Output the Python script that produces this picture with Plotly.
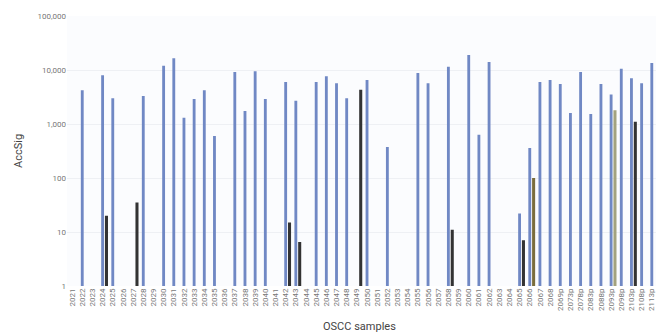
import plotly.graph_objects as go

samples = [str(y) for y in range(2021, 2069)] + [
    "2069p", "2073p", "2078p", "2083p", "2088p", "2093p",
    "2098p", "2103p", "2108p", "2113p", "2117p"]

# main series (blue); None = no bar
blue = [
    None, 4200, None, 8000, 3000, None, None, 3300, None, 12000,   # 2021-2030
    16500, 1300, 2900, 4200, 600, None, 9200, 1750, 9500, 2900,    # 2031-2040
    None, 6000, 2700, None, 6000, 7700, 5700, 3000, None, 6500,    # 2041-2050
    None, 375, None, None, 8800, 5700, None, 11500, None, 19000,   # 2051-2060
    630, 14000, None, None, 22, 360, 6000, 6500,                   # 2061-2068
    5500, 1600, 9200, 1530, 5500, 3500, 10500, 7000, 5700, 13500, 13500]

# second series (dark); None = no bar
dark = [
    None, None, None, 20, None, None, 35, None, None, None,
    None, None, None, None, None, None, None, None, None, None,
    None, 15, 6.5, None, None, None, None, None, 4300, None,
    None, None, None, None, None, None, None, 11, None, None,
    None, None, None, None, 7, 100, None, None,
    None, None, None, None, None, 1800, None, 1100, None, None, None]

dark_colors = ["#333333"] * len(samples)
dark_colors[samples.index("2066")] = "#7a6d3c"
dark_colors[samples.index("2093p")] = "#a3a27e"

y_ticks = [1, 10, 100, 1000, 10000, 100000]
y_tick_text = ["1", "10", "100", "1,000", "10,000", "100,000"]

fig = go.Figure()
fig.add_trace(go.Bar(
    x=samples, y=blue, marker=dict(color="#7088c4", line=dict(width=0)),
    width=0.28, offset=-0.14, name="AccSig"))
fig.add_trace(go.Bar(
    x=samples, y=dark, marker=dict(color=dark_colors, line=dict(width=0)),
    width=0.3, offset=0.23, name="AccSig 2"))

# the page body adds an 8px margin, so the figure is 8px smaller each way
fig.update_layout(
    width=656, height=327,
    margin=dict(l=59, r=0, t=8, b=49),
    paper_bgcolor="white", plot_bgcolor="#fbfcfe",
    showlegend=False, barmode="overlay",
    font=dict(family="Roboto, Liberation Sans, sans-serif", color="#555555"),
    annotations=[
        dict(text="OSCC samples", xref="paper", yref="paper", x=0.49, y=0,
             yshift=-40, xanchor="center", yanchor="middle", showarrow=False,
             font=dict(size=11, color="#444444")),
        dict(text="AccSig", xref="paper", yref="paper", x=0, xshift=-49,
             y=0.5, xanchor="center", yanchor="middle", textangle=-90,
             showarrow=False, font=dict(size=11, color="#444444")),
    ],
)
fig.update_xaxes(
    type="category", range=[-0.5, 58.2], automargin=False,
    tickangle=-90, tickfont=dict(size=8, color="#777777"),
    ticklabeloverflow="allow",
    showgrid=False, showline=False, ticks="",
)
fig.update_yaxes(
    type="log", range=[0, 5], automargin=False,
    tickvals=y_ticks, ticktext=y_tick_text,
    tickfont=dict(size=8, color="#777777"),
    showgrid=True, gridcolor="#eef0f4", zeroline=False, showline=False,
    ticks="", ticklen=0,
)

fig.write_html("out.html")
